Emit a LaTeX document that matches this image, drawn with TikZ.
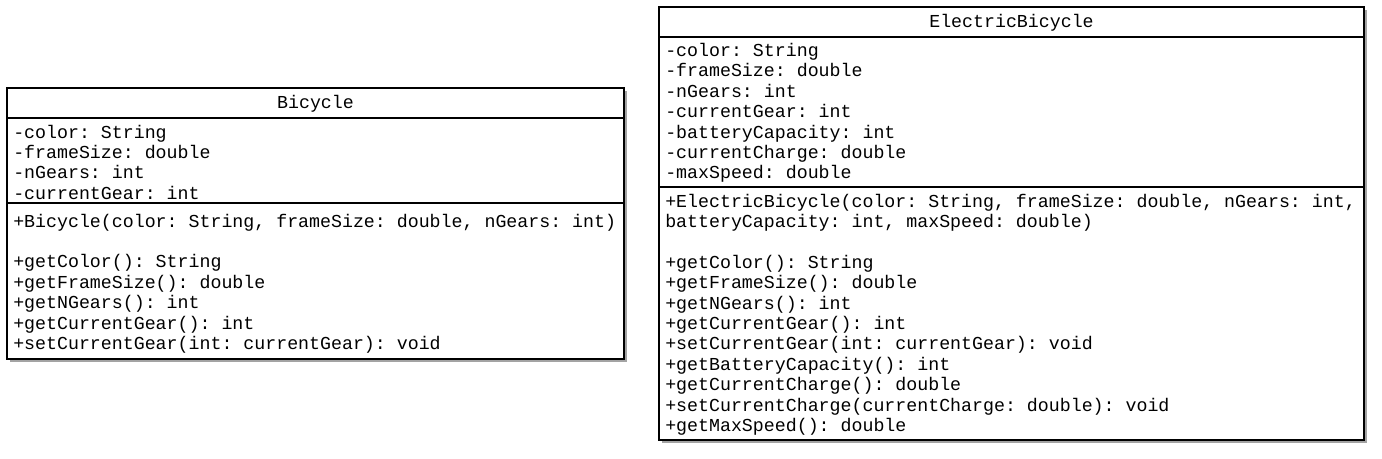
\documentclass[tikz,border=0pt]{standalone}
\usepackage{fontspec}
\newfontfamily\umlfont{Liberation Mono}
\usetikzlibrary{shadows}

\begin{document}
\begin{tikzpicture}[x=0.75pt,y=-0.75pt,
  classbox/.style={draw, line width=1pt, fill=white,
    drop shadow={shadow xshift=2.6pt, shadow yshift=-2.6pt, fill=black!45, opacity=0.8}},
  umltext/.style={font=\umlfont\frenchspacing\fontsize{13.7pt}{15.3pt}\selectfont, inner sep=0pt, align=left, anchor=base west},
  umltitle/.style={font=\umlfont\fontsize{13.7pt}{15.3pt}\selectfont, inner sep=0pt}]
  \useasboundingbox (0,0) rectangle (1382,458);

  % Bicycle (text nodes sit on the baseline of their last line)
  \draw[classbox] (7,88) rectangle (624,359);
  \draw[line width=1pt] (7,118) -- (624,118) (7,203) -- (624,203);
  \node[umltitle] (bikeName) at (315.5,104) {Bicycle};
  \node[umltext] (bikeAttr) at (13,199.2) {-color: String\\-frameSize: double\\-nGears: int\\-currentGear: int};
  \node[umltext] (bikeOps) at (13,349.4) {+Bicycle(color: String, frameSize: double, nGears: int)\\[15.3pt]
    +getColor(): String\\+getFrameSize(): double\\+getNGears(): int\\+getCurrentGear(): int\\
    +setCurrentGear(int: currentGear): void};

  % ElectricBicycle
  \draw[classbox] (659,7) rectangle (1364,440);
  \draw[line width=1pt] (659,37) -- (1364,37) (659,187) -- (1364,187);
  \node[umltitle] (ebikeName) at (1011.5,23) {ElectricBicycle};
  \node[umltext] (ebikeAttr) at (665,178.9) {-color: String\\-frameSize: double\\-nGears: int\\-currentGear: int\\
    -batteryCapacity: int\\-currentCharge: double\\-maxSpeed: double};
  \node[umltext] (ebikeOps) at (665,431.4) {+ElectricBicycle(color: String, frameSize: double, nGears: int,\\
    batteryCapacity: int, maxSpeed: double)\\[15.3pt]
    +getColor(): String\\+getFrameSize(): double\\+getNGears(): int\\+getCurrentGear(): int\\
    +setCurrentGear(int: currentGear): void\\+getBatteryCapacity(): int\\+getCurrentCharge(): double\\
    +setCurrentCharge(currentCharge: double): void\\+getMaxSpeed(): double};
\end{tikzpicture}
\end{document}
